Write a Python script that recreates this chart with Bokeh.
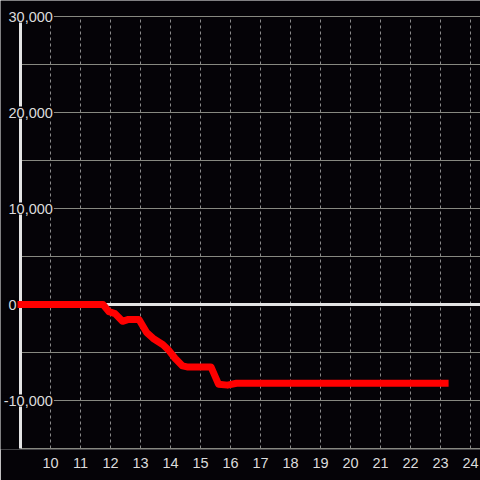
from bokeh.plotting import figure
from bokeh.models import Range1d, FixedTicker, ColumnDataSource
from bokeh.core.properties import value
from bokeh.embed import file_html
from bokeh.resources import INLINE

# ---- data ----
hours = [8.9, 11.75, 11.95, 12.15, 12.4, 12.6, 12.95, 13.2, 13.45, 13.75,
         13.95, 14.15, 14.4, 14.55, 15.35, 15.6, 15.9, 16.2, 23.27]
balance = [0, 0, -750, -950, -1750, -1550, -1550, -2900, -3600, -4200,
           -4800, -5600, -6400, -6500, -6500, -8300, -8400, -8200, -8200]
x_ticks = list(range(10, 25))
y_grid_values = list(range(-15000, 30001, 5000))
y_label_values = [30000, 20000, 10000, 0, -10000]
y_labels = ["30,000", "20,000", "10,000", "0", "-10,000"]
x_axis_at = 9

BG = "#050307"
TXT = "#dcdcdc"
FONT = "Liberation Sans"
FS = 14.5

# 30 px per hour, 48 px per 5,000 ; frame = 480 x 449
x_start, x_end = 9 - 20 / 30, 9 + 460 / 30
y_start, y_end = -(449 - 304) / 48 * 5000, 304 / 48 * 5000
y_lo, y_hi = min(y_grid_values), max(y_grid_values)

p = figure(width=480, height=480, output_backend="svg", toolbar_location=None,
           x_range=Range1d(x_start, x_end), y_range=Range1d(y_start, y_end),
           x_axis_location="below", y_axis_location=None,
           min_border_left=0, min_border_right=0, min_border_top=0,
           min_border_bottom=31)
p.background_fill_color = BG
p.border_fill_color = BG
p.outline_line_color = None

# x axis (labels only)
p.xaxis.ticker = FixedTicker(ticks=x_ticks)
p.xaxis.axis_line_color = None
p.xaxis.major_tick_line_color = None
p.xaxis.minor_tick_line_color = None
p.xaxis.major_label_text_color = TXT
p.xaxis.major_label_text_font = FONT
p.xaxis.major_label_text_font_size = f"{FS}px"
p.xaxis.major_label_standoff = 2

# grids
p.xgrid.ticker = FixedTicker(ticks=x_ticks)
p.xgrid.grid_line_color = "#8a8a8a"
p.xgrid.grid_line_width = 1
p.xgrid.grid_line_dash = "3 3"
p.xgrid.cross_bounds = (y_lo, y_hi)

p.ygrid.ticker = FixedTicker(ticks=y_grid_values)
p.ygrid.grid_line_color = "#878880"
p.ygrid.grid_line_width = 1
p.ygrid.cross_bounds = (x_axis_at, x_end)

# vertical axis line
p.segment(x0=[x_axis_at], y0=[y_lo], x1=[x_axis_at], y1=[y_hi],
          line_color="#e4e4e4", line_width=3)
# zero line
p.segment(x0=[x_axis_at], y0=[0], x1=[x_end], y1=[0],
          line_color="#e4e4e4", line_width=3)

# y labels with dark background (drawn over axis line); minus sign hangs left
label_left = x_start + 7 / 30
offsets = [-0.333 * FS if t.startswith("-") else 0 for t in y_labels]
lab_src = ColumnDataSource(dict(x=[label_left] * len(y_labels), y=y_label_values,
                                text=y_labels, dx=offsets))
p.text(x="x", y="y", text="text", x_offset="dx", source=lab_src,
       text_align="left", text_baseline="middle", text_color=TXT,
       text_font=value(FONT), text_font_size=f"{FS}px",
       background_fill_color=BG, padding=1)

# series
p.line(hours, balance, line_width=7, line_color="#ff0000",
       line_join="round", line_cap="butt")

open("out.html", "w").write(file_html(p, INLINE))
